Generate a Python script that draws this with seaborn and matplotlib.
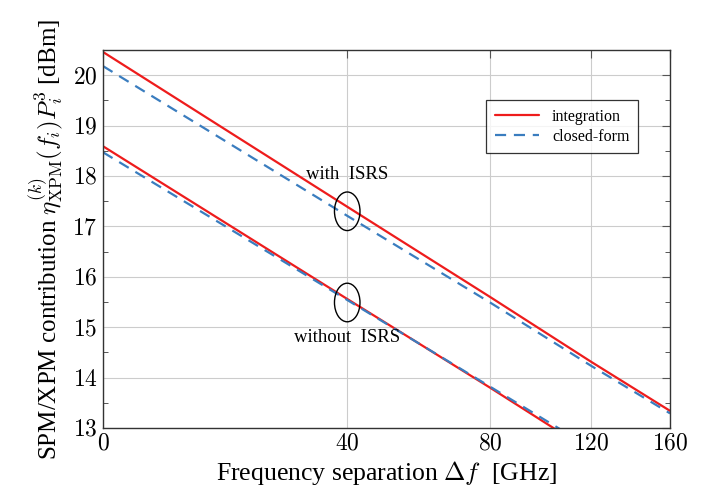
import numpy as np
import pandas as pd
import matplotlib
matplotlib.use("Agg")
import matplotlib.pyplot as plt
from matplotlib.patches import Ellipse
import seaborn as sns

# Valores (Delta f em GHz, potencia em dBm)
freq = [0, 40, 80, 120, 160]
isrs_integ = [20.46, 17.39, 15.60, 14.31, 13.34]
isrs_closed = [20.18, 17.21, 15.49, 14.23, 13.29]
freq_no = [0, 40, 80, 120]
noisrs_integ = [18.59, 15.56, 13.80, 12.52]
noisrs_closed = [18.47, 15.54, 13.82, 12.60]

xticks = [0, 40, 80, 120, 160]
yticks = [13, 14, 15, 16, 17, 18, 19, 20]

sns.set_theme(style="whitegrid")
plt.rcParams["font.family"] = ["Liberation Serif", "DejaVu Serif"]
plt.rcParams["mathtext.fontset"] = "cm"
plt.rcParams["text.color"] = "black"
plt.rcParams["axes.labelcolor"] = "black"
plt.rcParams["xtick.color"] = "black"
plt.rcParams["ytick.color"] = "black"

red = "#ee1c1c"
blue = "#3a7dbf"

fig = plt.figure(figsize=(7.18, 5.04), dpi=100)
ax = fig.add_axes([0.1435, 0.1508, 0.7897, 0.75])

# eixo x em escala log(f + 40), como no original
ax.set_xscale("function", functions=(lambda x: np.log(np.asarray(x) + 40.0),
                                     lambda y: np.exp(np.asarray(y)) - 40.0))

df1 = pd.DataFrame({"f": freq, "integ": isrs_integ, "closed": isrs_closed})
df2 = pd.DataFrame({"f": freq_no, "integ": noisrs_integ, "closed": noisrs_closed})

sns.lineplot(data=df1, x="f", y="integ", ax=ax, color=red, lw=1.6, label="integration")
sns.lineplot(data=df1, x="f", y="closed", ax=ax, color=blue, lw=1.6, label="closed-form")
ax.lines[-1].set_dashes((5, 3.5))
sns.lineplot(data=df2, x="f", y="integ", ax=ax, color=red, lw=1.6)
sns.lineplot(data=df2, x="f", y="closed", ax=ax, color=blue, lw=1.6)
ax.lines[-1].set_dashes((5, 3.5))

ax.set_xlim(0, 160)
ax.set_ylim(13, 20.5)
ax.set_xticks(xticks, labels=[f"${t}$" for t in xticks])
ax.set_yticks(yticks, labels=[f"${t}$" for t in yticks])
ax.set_yticks(np.arange(13.5, 20.5, 1.0), minor=True)
ax.tick_params(axis="both", which="major", direction="in", length=6, width=0.8,
               labelsize=17, top=True, right=True, color="#555555", pad=4,
               labelcolor="black")
ax.tick_params(axis="y", which="minor", direction="in", length=3.5, width=0.7,
               left=True, right=True, color="#555555")
ax.grid(True, which="major", color="#cccccc", lw=0.8)
ax.grid(False, which="minor")
for s in ax.spines.values():
    s.set_color("#333333")
    s.set_linewidth(1.0)

ax.set_xlabel(r"Frequency separation $\Delta f\ $ [GHz]", fontsize=18.5, labelpad=3)
ax.set_ylabel(r"SPM/XPM contribution $\eta_{\mathrm{XPM}}^{(k)}(f_i)P_i^3$ [dBm]",
              fontsize=18, labelpad=5)

# anotacoes com elipses
to_axes = lambda x, y: ax.transAxes.inverted().transform(ax.transData.transform((x, y)))
for (cx, cy) in [(40, 17.3), (40, 15.49)]:
    c = to_axes(cx, cy)
    ax.add_patch(Ellipse(c, 0.045, 0.102, transform=ax.transAxes, fill=False,
                         ec="black", lw=1.0, zorder=5))
ax.text(40, 18.03, "with  ISRS", ha="center", va="center", fontsize=13.5)
ax.text(40, 14.79, "without  ISRS", ha="center", va="center", fontsize=13.5)

leg = ax.legend(loc="upper left", bbox_to_anchor=(0.675, 0.868), borderaxespad=0,
                fontsize=11.5, frameon=True, fancybox=False, handlelength=2.8,
                borderpad=0.55, labelspacing=0.25)
leg.get_frame().set_edgecolor("black")
leg.get_frame().set_linewidth(0.9)

fig.savefig("out.png", dpi=100)
